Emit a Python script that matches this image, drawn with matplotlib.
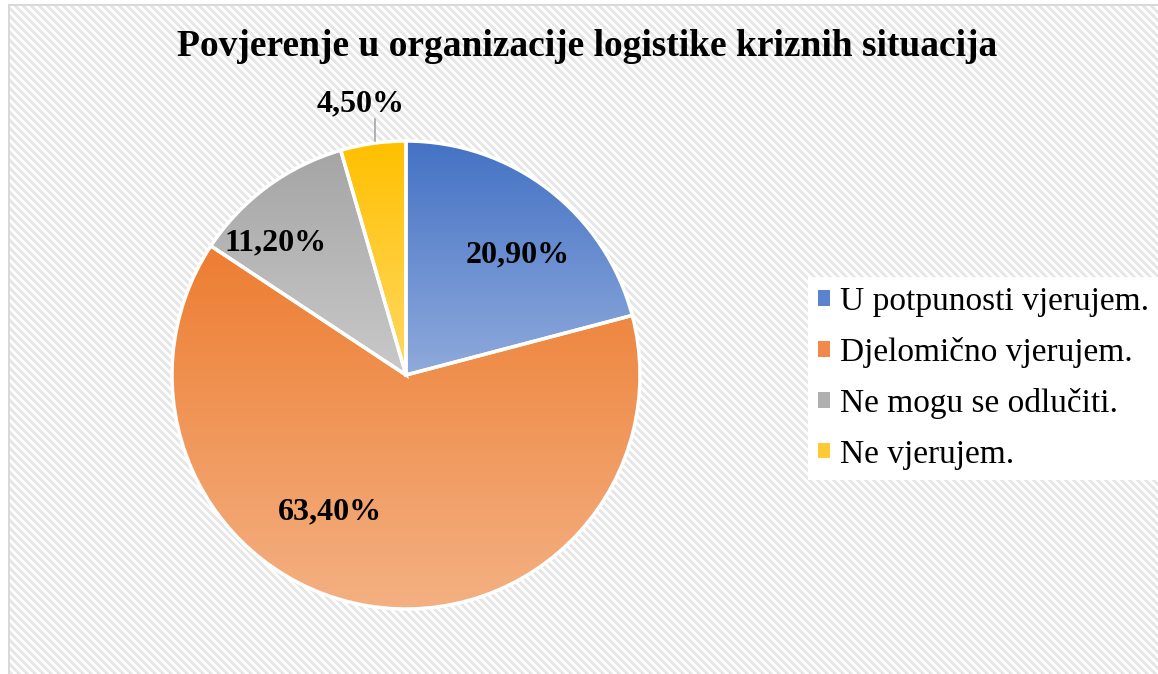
import numpy as np
import matplotlib.pyplot as plt
from matplotlib.colors import LinearSegmentedColormap
from matplotlib.patches import Rectangle

labels = ['U potpunosti vjerujem.', 'Djelomično vjerujem.', 'Ne mogu se odlučiti.', 'Ne vjerujem.']
values = [20.9, 63.4, 11.2, 4.5]
pct_text = ['20,90%', '63,40%', '11,20%', '4,50%']
top_colors = ['#4472C4', '#ED7D31', '#A5A5A5', '#FFC000']
bottom_colors = ['#8FAADC', '#F4B183', '#C9C9C9', '#FFD966']
legend_colors = ['#5B82CC', '#EF8A4A', '#B0B0B0', '#FFC936']

W, H = 1158, 674
fig = plt.figure(figsize=(W / 100, H / 100), dpi=100)

# striped chart area background with a thin grey border
yy, xx = np.mgrid[0:H, 0:W]
bg = np.ones((H, W, 3))
bg[((xx - yy) % 8) < 4] = 0.905
bg[:, :8] = 1.0
bg[:4, :] = 1.0
bg[4:6, 8:] = 0.85
bg[4:, 8:10] = 0.85
ax_bg = fig.add_axes([0, 0, 1, 1])
ax_bg.imshow(bg, aspect='auto', interpolation='nearest')
ax_bg.axis('off')

# pie
cx, cy, r = 406, H - 375, 234
ax = fig.add_axes([(cx - r) / W, (cy - r) / H, 2 * r / W, 2 * r / H])
wedges, _ = ax.pie(values, startangle=90, counterclock=False, radius=1,
                   colors=top_colors,
                   wedgeprops=dict(edgecolor='white', linewidth=2.5))

grad = np.linspace(0, 1, 256).reshape(-1, 1)
for w, c1, c2 in zip(wedges, top_colors, bottom_colors):
    v = w.get_path().vertices
    cmap = LinearSegmentedColormap.from_list('g', [c2, c1])
    im = ax.imshow(grad, cmap=cmap, origin='lower', aspect='auto',
                   extent=[v[:, 0].min(), v[:, 0].max(), v[:, 1].min(), v[:, 1].max()],
                   zorder=1)
    im.set_clip_path(w)
    w.set_facecolor('none')
    w.set_zorder(2)

label_pos = [(0.479, 0.513), (-0.325, -0.585), (-0.556, 0.564), (-0.192, 1.16)]
for (x, y), t in zip(label_pos, pct_text):
    ax.text(x, y, t, ha='center', va='center', fontsize=23, fontweight='bold',
            family='Liberation Serif', color='black', zorder=5)
ax.plot([-0.132, -0.132], [1.0, 1.095], color='#A6A6A6', lw=1.2, clip_on=False, zorder=3)

ax.set_xlim(-1, 1)
ax.set_ylim(-1, 1)
ax.axis('off')

fig.text(587 / W, 1 - 47 / H, 'Povjerenje u organizacije logistike kriznih situacija',
         ha='center', va='center', fontsize=27, fontweight='bold', family='Liberation Serif')

handles = [Rectangle((0, 0), 1, 1, facecolor=c, edgecolor='none') for c in legend_colors]
leg = fig.legend(handles, labels, loc='center left', bbox_to_anchor=(808 / W, 1 - 378 / H),
                 prop={'family': 'Liberation Serif', 'size': 24}, frameon=True,
                 facecolor='white', edgecolor='none', framealpha=1, fancybox=False,
                 handlelength=0.35, handleheight=0.35, handletextpad=0.3,
                 labelspacing=0.6, borderpad=0.3, borderaxespad=0)

fig.savefig('out.png', dpi=100)
